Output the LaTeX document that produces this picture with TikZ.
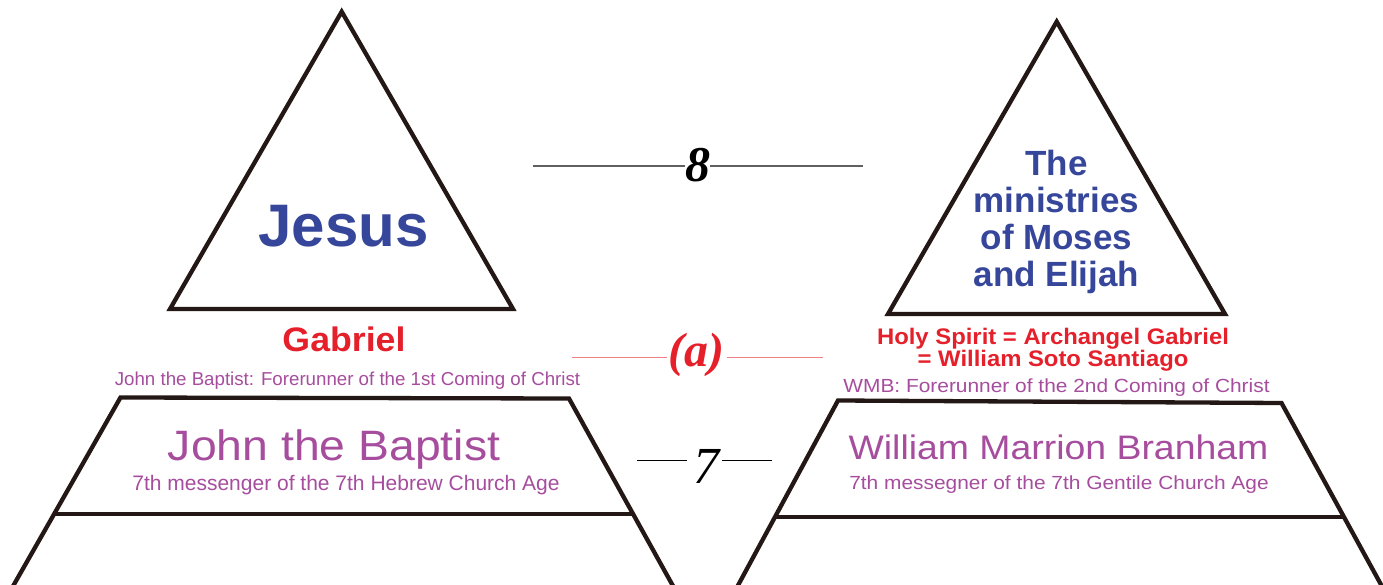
\documentclass[tikz,border=0pt]{standalone}
\usepackage{fontspec}
\usepackage{graphicx}
\setmainfont{Liberation Sans}
\newfontfamily\numfont{Liberation Serif}
\definecolor{frame}{HTML}{231815}
\definecolor{jblue}{HTML}{36479B}
\definecolor{jred}{HTML}{E5202A}
\definecolor{jpurple}{HTML}{A64D9E}
\definecolor{pinkline}{HTML}{EE8086}
\definecolor{grayline}{HTML}{606060}
\newcommand{\fs}[2]{\fontsize{#1}{#2}\selectfont}
\newcommand{\sx}[2]{\scalebox{#1}[1]{#2}}
\tikzset{
  shapeline/.style={draw=frame, line width=4.3pt, line join=miter},
  lbl/.style={inner sep=0pt, anchor=base, align=center},
  numline/.style={line width=1.5pt},
}
\begin{document}
\begin{tikzpicture}[x=1pt,y=-1pt]
\useasboundingbox (0,0) rectangle (1383,585);
\fill[white] (0,0) rectangle (1383,585);
\begin{scope}
\clip (0,0) rectangle (1383,585);
% left triangle
\coordinate (LA) at (341.7,11.7);
\coordinate (LB) at (170,309);
\coordinate (LC) at (513,309);
\draw[shapeline] (LA) -- (LB) -- (LC) -- cycle;
% right triangle
\coordinate (RA) at (1056.7,21.7);
\coordinate (RB) at (888,314);
\coordinate (RC) at (1225,314);
\draw[shapeline] (RA) -- (RB) -- (RC) -- cycle;
% left trapezoid
\coordinate (LTtl) at (120.5,397.5);
\coordinate (LTtr) at (569,398.5);
\coordinate (LTbl) at (8,595);
\coordinate (LTbr) at (678,595);
\coordinate (LTml) at (54,514);
\coordinate (LTmr) at (633,514);
\draw[shapeline] (LTbl) -- (LTtl) -- (LTtr) -- (LTbr);
\draw[shapeline] (LTml) -- (LTmr);
% right trapezoid
\coordinate (RTtl) at (838,400.5);
\coordinate (RTtr) at (1281.5,403);
\coordinate (RTbl) at (732.8,595);
\coordinate (RTbr) at (1386.7,595);
\coordinate (RTml) at (775,517);
\coordinate (RTmr) at (1344,517);
\draw[shapeline] (RTbl) -- (RTtl) -- (RTtr) -- (RTbr);
\draw[shapeline] (RTml) -- (RTmr);
\end{scope}

% texts left
\node[lbl, text=jblue, font=\bfseries\fs{60}{60}] (jesus) at (343.5,247) {Jesus};
\node[lbl, text=jred, font=\bfseries\fs{34}{34}] (gabriel) at (344,351) {\sx{1.05}{Gabriel}};
\node[lbl, text=jpurple, font=\fs{18.7}{20}] (jbfore) at (347.5,385) {John the Baptist: Forerunner of the 1st Coming of Christ};
\node[lbl, text=jpurple, font=\fs{42.5}{44}] (jbname) at (334,460) {\sx{1.09}{John the Baptist}};
\node[lbl, text=jpurple, font=\fs{21}{22}] (jbsub) at (346,490) {7th messenger of the 7th Hebrew Church Age};

% texts right
\node[lbl, text=jblue, font=\bfseries\fs{35}{37.2}] (moses) at (1056.5,287) {The\\ministries\\of Moses\\and Elijah};
\node[lbl, text=jred, font=\bfseries\fs{22.5}{22}] (holy) at (1053,366) {\sx{1.06}{Holy Spirit = Archangel Gabriel}\\\sx{1.06}{= William Soto Santiago}};
\node[lbl, text=jpurple, font=\fs{19}{20}] (wmbfore) at (1056.5,392) {\sx{1.1}{WMB: Forerunner of the 2nd Coming of Christ}};
\node[lbl, text=jpurple, font=\fs{34}{36}] (wmbname) at (1058.5,459) {\sx{1.1}{William Marrion Branham}};
\node[lbl, text=jpurple, font=\fs{19}{20}] (wmbsub) at (1059,489) {\sx{1.1}{7th messegner of the 7th Gentile Church Age}};

% numbers with lines
\node[lbl, font=\numfont\bfseries\itshape\fs{50}{50}] (n8) at (697.5,182) {8};
\coordinate (n8l) at (533,166);
\coordinate (n8r) at (863,166);
\draw[numline, draw=grayline] (n8l) -- (n8.west |- n8l);
\draw[numline, draw=grayline] (n8.east |- n8r) -- (n8r);

\node[lbl, text=jred, font=\numfont\bfseries\itshape\fs{48}{48}] (na) at (696.5,366) {(a)};
\coordinate (nal) at (572,357.7);
\coordinate (nar) at (823,357.7);
\draw[numline, draw=pinkline] (nal) -- ([xshift=-1pt]na.west |- nal);
\draw[numline, draw=pinkline] ([xshift=2pt]na.east |- nar) -- (nar);

\node[lbl, font=\numfont\itshape\fs{52}{52}] (n7) at (706,483) {7};
\coordinate (n7l) at (637,460.7);
\coordinate (n7r) at (772,460.7);
\draw[numline, draw=black] (n7l) -- ([xshift=-6pt]n7.west |- n7l);
\draw[numline, draw=black] ([xshift=3pt]n7.east |- n7r) -- (n7r);
\end{tikzpicture}
\end{document}
